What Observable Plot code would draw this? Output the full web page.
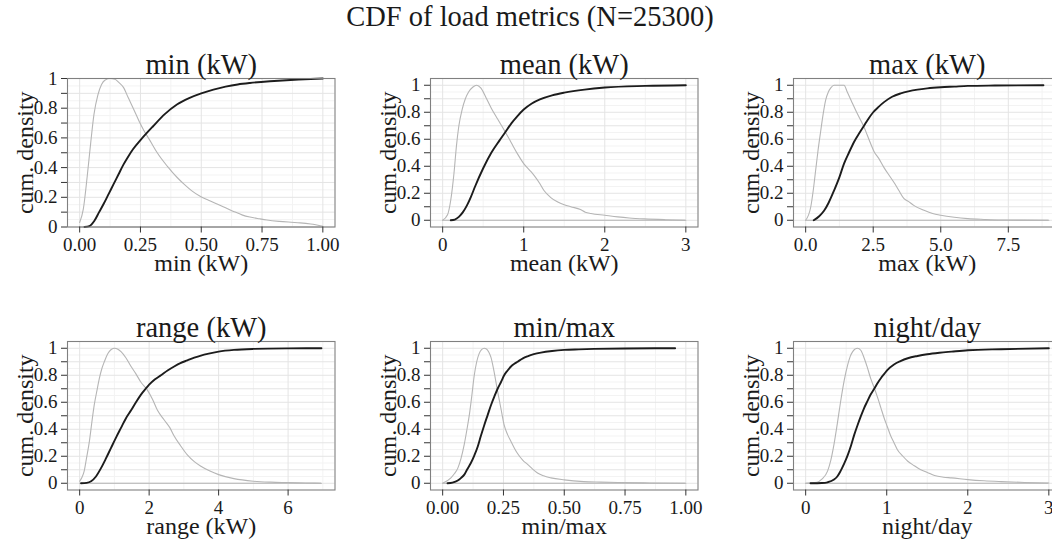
<!DOCTYPE html>
<html>
<head>
<meta charset="utf-8">
<script src="https://cdn.jsdelivr.net/npm/d3@7"></script>
<script src="https://cdn.jsdelivr.net/npm/@observablehq/plot@0.6"></script>
<style>
html,body{margin:0;padding:0;background:#fff;}
body{width:1052px;height:544px;position:relative;overflow:hidden;font-family:"Liberation Serif","Times New Roman",serif;}
#title{position:absolute;left:4px;width:1052px;top:0px;line-height:34px;text-align:center;font-size:28.5px;color:#1a1a1a;white-space:nowrap;}
.panel{position:absolute;}
.panel svg{overflow:visible;max-width:none !important;display:block;}
</style>
</head>
<body>
<div id="title">CDF of load metrics (N=25300)</div>
<script>
// ---------- data ----------
const yTickValues = [0, 0.1, 0.2, 0.3, 0.4, 0.5, 0.6, 0.7, 0.8, 0.9, 1];
const yTickLabels = ["0", "", "0.2", "", "0.4", "", "0.6", "", "0.8", "", "1"];
const yLabel = "cum. density";

// min (kW)
const minTicks = [0, 0.25, 0.5, 0.75, 1];
const minTickLabels = ["0.00", "0.25", "0.50", "0.75", "1.00"];
const minCdfX = [0.02,0.04,0.06,0.08,0.10,0.12,0.14,0.16,0.18,0.20,0.22,0.25,0.28,0.30,0.35,0.40,0.45,0.50,0.55,0.60,0.65,0.70,0.80,0.90,1.00];
const minCdfY = [0,0.006,0.04,0.10,0.16,0.225,0.29,0.355,0.42,0.475,0.525,0.585,0.64,0.675,0.76,0.825,0.868,0.90,0.925,0.945,0.96,0.97,0.983,0.993,1.0];
const minDensX = [0,0.015,0.031,0.045,0.059,0.075,0.09,0.105,0.125,0.145,0.16,0.18,0.2,0.223,0.245,0.264,0.29,0.319,0.36,0.4,0.428,0.46,0.497,0.53,0.565,0.6,0.633,0.67,0.70,0.74,0.77,0.82,0.87,0.907,0.95,1.0];
const minDensY = [0.03,0.12,0.34,0.56,0.76,0.89,0.96,0.99,1.0,0.995,0.975,0.94,0.87,0.79,0.71,0.65,0.58,0.5,0.41,0.335,0.29,0.245,0.205,0.18,0.155,0.13,0.105,0.08,0.067,0.055,0.047,0.038,0.032,0.028,0.02,0.005];

// mean (kW)
const meanTicks = [0, 1, 2, 3];
const meanTickLabels = ["0", "1", "2", "3"];
const meanCdfX = [0.1,0.15,0.2,0.25,0.3,0.35,0.4,0.5,0.6,0.7,0.77,0.85,0.92,1.0,1.1,1.2,1.35,1.5,1.75,2.0,2.5,3.0];
const meanCdfY = [0,0.005,0.025,0.06,0.11,0.175,0.25,0.385,0.5,0.59,0.65,0.72,0.77,0.82,0.865,0.895,0.925,0.945,0.968,0.983,0.995,1.0];
const meanDensX = [0,0.06,0.1,0.14,0.17,0.2,0.24,0.28,0.32,0.37,0.42,0.47,0.534,0.6,0.678,0.767,0.85,0.925,1.0,1.09,1.13,1.2,1.25,1.33,1.42,1.5,1.58,1.7,1.76,1.83,2.0,2.16,2.3,2.49,2.75,3.0];
const meanDensY = [0,0.04,0.15,0.35,0.55,0.7,0.82,0.9,0.95,0.985,1.0,0.98,0.91,0.83,0.75,0.66,0.57,0.49,0.42,0.36,0.33,0.27,0.22,0.17,0.135,0.115,0.1,0.08,0.06,0.05,0.037,0.025,0.017,0.01,0.004,0];

// max (kW)
const maxTicks = [0, 2.5, 5, 7.5];
const maxTickLabels = ["0.0", "2.5", "5.0", "7.5"];
const maxCdfX = [0.3,0.5,0.68,0.85,1.05,1.25,1.42,1.6,1.79,2.0,2.16,2.3,2.5,2.7,2.9,3.2,3.52,3.8,4.14,4.5,5.0,5.5,6.0,7.0,8.8];
const maxCdfY = [0,0.03,0.07,0.13,0.22,0.32,0.42,0.5,0.58,0.65,0.70,0.745,0.80,0.84,0.875,0.915,0.94,0.955,0.968,0.977,0.985,0.99,0.995,0.998,1.0];
const maxDensX = [0,0.19,0.28,0.37,0.46,0.56,0.65,0.74,0.84,0.93,1.05,1.2,1.42,1.54,1.7,1.91,2.16,2.4,2.53,2.7,2.9,3.1,3.27,3.45,3.64,3.8,4.0,4.38,4.7,5.0,5.5,6.0,6.6,7.2,8.0,9.0];
const maxDensY = [0,0.1,0.22,0.37,0.52,0.665,0.79,0.89,0.95,0.98,1.0,1.0,1.0,0.95,0.88,0.79,0.69,0.57,0.51,0.46,0.39,0.33,0.28,0.22,0.16,0.14,0.11,0.074,0.05,0.037,0.022,0.012,0.006,0.002,0.001,0];

// range (kW)
const rangeTicks = [0, 2, 4, 6];
const rangeTickLabels = ["0", "2", "4", "6"];
const rangeCdfX = [0.04,0.2,0.33,0.47,0.61,0.75,0.9,1.05,1.19,1.33,1.48,1.62,1.76,1.9,2.0,2.17,2.34,2.53,2.72,2.9,3.1,3.3,3.49,3.75,4.0,4.44,5.0,6.0,6.96];
const rangeCdfY = [0,0.003,0.015,0.05,0.11,0.18,0.26,0.34,0.41,0.48,0.54,0.6,0.655,0.70,0.73,0.77,0.80,0.835,0.865,0.89,0.91,0.93,0.946,0.962,0.975,0.988,0.995,0.999,1.0];
const rangeDensX = [0,0.06,0.13,0.2,0.28,0.35,0.42,0.5,0.57,0.64,0.71,0.78,0.85,0.92,1.0,1.1,1.19,1.33,1.48,1.62,1.76,1.95,2.1,2.24,2.43,2.6,2.72,2.9,3.1,3.3,3.49,3.75,4.0,4.44,5.0,5.5,5.98,6.5,6.96];
const rangeDensY = [0.015,0.04,0.09,0.19,0.31,0.45,0.58,0.69,0.78,0.85,0.9,0.945,0.975,0.993,1.0,0.993,0.975,0.93,0.865,0.81,0.75,0.69,0.62,0.54,0.47,0.41,0.35,0.28,0.21,0.16,0.126,0.09,0.064,0.034,0.015,0.008,0.005,0.002,0];

// min/max
const ratioTicks = [0, 0.25, 0.5, 0.75, 1];
const ratioTickLabels = ["0.00", "0.25", "0.50", "0.75", "1.00"];
const ratioCdfX = [0.02,0.04,0.062,0.075,0.089,0.1,0.116,0.13,0.144,0.157,0.171,0.185,0.199,0.212,0.226,0.24,0.253,0.267,0.281,0.295,0.308,0.33,0.349,0.375,0.404,0.45,0.5,0.56,0.623,0.75,0.956];
const ratioCdfY = [0,0.005,0.02,0.038,0.064,0.1,0.15,0.205,0.27,0.35,0.43,0.505,0.58,0.64,0.70,0.75,0.80,0.835,0.865,0.885,0.90,0.925,0.94,0.956,0.968,0.98,0.988,0.992,0.995,0.998,1.0];
const ratioDensX = [0,0.034,0.048,0.062,0.075,0.089,0.1,0.11,0.12,0.13,0.14,0.15,0.16,0.171,0.18,0.19,0.199,0.21,0.226,0.24,0.253,0.267,0.281,0.295,0.308,0.33,0.349,0.37,0.39,0.415,0.445,0.5,0.58,0.65,0.72,0.85,1.0];
const ratioDensY = [0,0.04,0.07,0.11,0.18,0.29,0.4,0.51,0.65,0.8,0.9,0.96,0.99,1.0,0.995,0.97,0.93,0.84,0.68,0.55,0.43,0.36,0.31,0.26,0.22,0.17,0.14,0.105,0.076,0.055,0.04,0.025,0.012,0.008,0.005,0.002,0];

// night/day
const ndTicks = [0, 1, 2, 3];
const ndTickLabels = ["0", "1", "2", "3"];
const ndCdfX = [0.06,0.2,0.27,0.35,0.39,0.43,0.475,0.52,0.56,0.6,0.64,0.68,0.72,0.76,0.8,0.85,0.89,0.93,0.97,1.01,1.09,1.17,1.26,1.38,1.5,1.65,1.8,2.0,2.41,3.0];
const ndCdfY = [0,0.002,0.007,0.027,0.05,0.09,0.145,0.21,0.28,0.36,0.43,0.495,0.555,0.606,0.655,0.704,0.745,0.78,0.81,0.84,0.88,0.905,0.926,0.943,0.956,0.967,0.975,0.985,0.993,1.0];
const ndDensX = [0,0.14,0.2,0.27,0.31,0.35,0.39,0.43,0.475,0.52,0.55,0.58,0.61,0.64,0.68,0.72,0.76,0.8,0.85,0.89,0.93,0.97,1.01,1.05,1.09,1.13,1.2,1.26,1.34,1.42,1.5,1.59,1.7,1.8,2.0,2.2,2.41,2.7,3.0];
const ndDensY = [0,0.007,0.03,0.09,0.17,0.29,0.44,0.6,0.76,0.88,0.94,0.975,0.995,1.0,0.985,0.93,0.86,0.78,0.7,0.63,0.555,0.48,0.415,0.35,0.3,0.25,0.2,0.163,0.13,0.1,0.08,0.057,0.045,0.04,0.027,0.018,0.012,0.006,0.002];

// ---------- layout ----------
const colLeft = [66.7, 429.5, 792.7];
const rowTop = [78, 340.8];
const plotW = 267.5, plotH = 148.5;
const mL = 67, mT = 50, mR = 10, mB = 60;

const panels = [
  {title: "min (kW)", xLabel: "min (kW)", col: 0, row: 0, xDomain: [-0.05, 1.05], yDomain: [0, 1],
   ticks: minTicks, tickLabels: minTickLabels, cdfX: minCdfX, cdfY: minCdfY, densX: minDensX, densY: minDensY},
  {title: "mean (kW)", xLabel: "mean (kW)", col: 1, row: 0, xDomain: [-0.15, 3.15], yDomain: [-0.05, 1.05],
   ticks: meanTicks, tickLabels: meanTickLabels, cdfX: meanCdfX, cdfY: meanCdfY, densX: meanDensX, densY: meanDensY},
  {title: "max (kW)", xLabel: "max (kW)", col: 2, row: 0, xDomain: [-0.45, 9.45], yDomain: [-0.05, 1.05],
   ticks: maxTicks, tickLabels: maxTickLabels, cdfX: maxCdfX, cdfY: maxCdfY, densX: maxDensX, densY: maxDensY},
  {title: "range (kW)", xLabel: "range (kW)", col: 0, row: 1, xDomain: [-0.35, 7.35], yDomain: [-0.05, 1.05],
   ticks: rangeTicks, tickLabels: rangeTickLabels, cdfX: rangeCdfX, cdfY: rangeCdfY, densX: rangeDensX, densY: rangeDensY},
  {title: "min/max", xLabel: "min/max", col: 1, row: 1, xDomain: [-0.05, 1.05], yDomain: [-0.05, 1.05],
   ticks: ratioTicks, tickLabels: ratioTickLabels, cdfX: ratioCdfX, cdfY: ratioCdfY, densX: ratioDensX, densY: ratioDensY},
  {title: "night/day", xLabel: "night/day", col: 2, row: 1, xDomain: [-0.15, 3.15], yDomain: [-0.05, 1.05],
   ticks: ndTicks, tickLabels: ndTickLabels, cdfX: ndCdfX, cdfY: ndCdfY, densX: ndDensX, densY: ndDensY}
];

const gridMajor = "#e4e4e4", gridMinor = "#f3f3f3";
const greyLine = "#b5b5b5", blackLine = "#1c1c1c";

for (const p of panels) {
  const step = p.ticks[1] - p.ticks[0];
  const minorX = [];
  for (let v = p.ticks[0] - step / 2; v < p.xDomain[1]; v += step) {
    if (v > p.xDomain[0]) minorX.push(v);
  }
  const minorY = yTickValues.slice(0, -1).map(v => v + 0.05);
  const xLabelMap = new Map(p.ticks.map((t, i) => [t, p.tickLabels[i]]));
  const yLabelMap = new Map(yTickValues.map((t, i) => [t, yTickLabels[i]]));
  const cdf = p.cdfX.map((x, i) => ({x, y: p.cdfY[i]}));
  const dens = p.densX.map((x, i) => ({x, y: p.densY[i]}));
  const W = mL + plotW + mR, H = mT + plotH + mB;

  const chart = Plot.plot({
    width: W,
    height: H,
    marginLeft: mL, marginRight: mR, marginTop: mT, marginBottom: mB,
    style: {fontFamily: '"Liberation Serif","Times New Roman",serif', fontSize: "19px", background: "transparent", color: "#1a1a1a", overflow: "visible", maxWidth: "none"},
    x: {domain: p.xDomain},
    y: {domain: p.yDomain},
    marks: [
      Plot.gridX(minorX, {stroke: gridMinor, strokeOpacity: 1, strokeWidth: 1}),
      Plot.gridY(minorY, {stroke: gridMinor, strokeOpacity: 1, strokeWidth: 1}),
      Plot.gridX(p.ticks, {stroke: gridMajor, strokeOpacity: 1, strokeWidth: 1}),
      Plot.gridY(yTickValues, {stroke: gridMajor, strokeOpacity: 1, strokeWidth: 1}),
      Plot.ruleY([0], {x1: d3.min(p.densX), x2: d3.max(p.densX), stroke: greyLine, strokeWidth: 1.1}),
      Plot.line(dens, {x: "x", y: "y", stroke: greyLine, strokeWidth: 1.1, curve: "monotone-x"}),
      Plot.line(cdf, {x: "x", y: "y", stroke: blackLine, strokeWidth: 1.9, curve: "monotone-x"}),
      Plot.frame({stroke: "#808080", strokeWidth: 1.1}),
      Plot.axisX(p.ticks, {tickSize: 6, tickPadding: 4, stroke: "#333", fill: "#1a1a1a", tickFormat: d => xLabelMap.get(d), label: null, fontSize: 19}),
      Plot.axisY(yTickValues, {tickSize: 6, tickPadding: 4, stroke: "#333", fill: "#1a1a1a", tickFormat: d => yLabelMap.get(d), label: null, fontSize: 19}),
      Plot.text([p.xLabel], {text: d => d, frameAnchor: "bottom", textAnchor: "middle", lineAnchor: "bottom", dy: 44, fontSize: 24, fill: "#1a1a1a"}),
      Plot.text([yLabel], {text: d => d, frameAnchor: "left", textAnchor: "middle", lineAnchor: "bottom", rotate: -90, dx: -35, fontSize: 24, fill: "#1a1a1a"}),
      Plot.text([p.title], {text: d => d, frameAnchor: "top", textAnchor: "middle", lineAnchor: "bottom", dy: -5, fontSize: 28.5, fill: "#1a1a1a"})
    ]
  });
  const div = document.createElement("div");
  div.className = "panel";
  div.style.left = (colLeft[p.col] - mL) + "px";
  div.style.top = (rowTop[p.row] - mT) + "px";
  div.style.width = W + "px";
  div.style.height = H + "px";
  div.appendChild(chart);
  document.body.appendChild(div);
}
</script>
</body>
</html>
